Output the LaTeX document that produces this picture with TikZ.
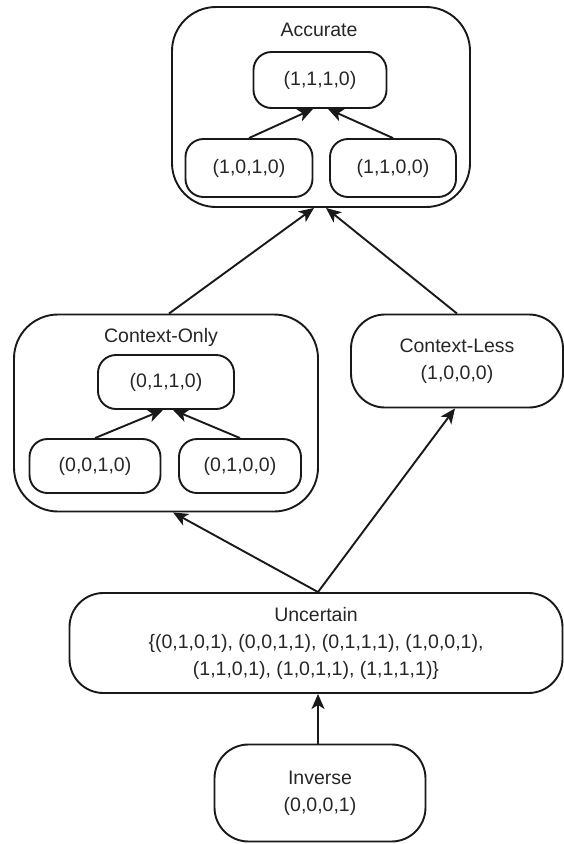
\documentclass[tikz,border=0pt]{standalone}
\usepackage{fontspec}
\setmainfont{Liberation Sans}
\usetikzlibrary{arrows.meta}
\begin{document}
\begin{tikzpicture}[x=1pt,y=-1pt,
  every node/.style={font=\fontsize{19.5}{27}\selectfont, text=black!85, inner sep=0pt, align=center},
  outline/.style={draw=black!90, line width=1.9pt},
  leaf/.style={outline, rounded corners=18pt},
  group/.style={outline, rounded corners=44pt},
  state/.style={outline, rounded corners=34pt},
  link/.style={draw=black!90, line width=1.9pt, -{Stealth[length=15pt,width=13pt,inset=4pt]}}]
\useasboundingbox (0,0) rectangle (564,844);

% Accurate group
\node[group, minimum width=298pt, minimum height=200pt] (acc) at (321,107) {};
\node[anchor=base] (accT) at (319,36) {Accurate};
\node[leaf, minimum width=133pt, minimum height=56pt] (n1110) at (320,80) {(1,1,1,0)};
\node[leaf, minimum width=127pt, minimum height=58pt] (n1010) at (249,168) {(1,0,1,0)};
\node[leaf, minimum width=126pt, minimum height=58pt] (n1100) at (393,168) {(1,1,0,0)};
\draw[link] (n1010.north) -- ([xshift=-7pt]n1110.south);
\draw[link] (n1100.north) -- ([xshift=8pt]n1110.south);

% Context-Only group
\node[group, minimum width=304pt, minimum height=197pt] (co) at (166,413) {};
\node[anchor=base] (coT) at (161,342) {Context-Only};
\node[leaf, minimum width=136pt, minimum height=54pt] (n0110) at (166,382) {(0,1,1,0)};
\node[leaf, minimum width=131pt, minimum height=54pt] (n0010) at (95,466) {(0,0,1,0)};
\node[leaf, minimum width=122pt, minimum height=54pt] (n0100) at (240,466) {(0,1,0,0)};
\draw[link] (n0010.north) -- ([xshift=-3pt]n0110.south);
\draw[link] (n0100.north) -- ([xshift=7pt]n0110.south);

% Context-Less state
\node[state, minimum width=212pt, minimum height=93pt] (cl) at (457,361) {Context-Less\\(1,0,0,0)};

% Uncertain state
\node[state, minimum width=493pt, minimum height=100pt] (unc) at (316,643)
  {Uncertain\\\{(0,1,0,1), (0,0,1,1), (0,1,1,1), (1,0,0,1),\\(1,1,0,1), (1,0,1,1), (1,1,1,1)\}};

% Inverse state
\node[state, minimum width=211pt, minimum height=97pt] (inv) at (320,793) {Inverse\\(0,0,0,1)};

% connections between the groups
\coordinate (split) at ([xshift=2pt]unc.north);
\draw[link] ([xshift=3pt]co.north) -- ([xshift=-7pt]acc.south);
\draw[link] (cl.north) -- ([xshift=5pt]acc.south);
\draw[link] (split) -- ([xshift=7pt]co.south);
\draw[link] (split) -- ([xshift=-2pt]cl.south);
\draw[link] ([xshift=-2pt]inv.north) -- ([xshift=-2pt]inv.north |- unc.south);
\end{tikzpicture}
\end{document}
